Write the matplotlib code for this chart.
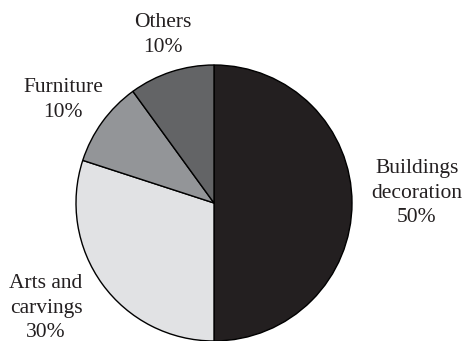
import matplotlib.pyplot as plt

labels = ["Buildings\ndecoration", "Arts and\ncarvings", "Furniture", "Others"]
shares = [50, 30, 10, 10]
colors = ["#231f20", "#e1e2e4", "#939598", "#636466"]
# label anchor points in pixel coordinates (x, y from top)
label_pos = [(417, 193), (46, 308), (63, 100), (163, 35)]

W, H = 463, 341

fig = plt.figure(figsize=(W / 100, H / 100), dpi=100)
ax = fig.add_axes([0, 0, 1, 1])
ax.set_xlim(0, W)
ax.set_ylim(0, H)
ax.set_aspect("equal")
ax.axis("off")

ax.pie(shares, colors=colors, startangle=90, counterclock=False,
       center=(214, H - 203), radius=138,
       wedgeprops=dict(edgecolor="black", linewidth=1.0))
ax.set_xlim(0, W)
ax.set_ylim(0, H)

for lab, val, (x, y) in zip(labels, shares, label_pos):
    ax.text(x, H - y, f"{lab}\n{val}%", ha="center", va="center",
            family="Liberation Serif", fontsize=15.5, linespacing=1.38,
            color="#231f20")

fig.savefig("out.png", dpi=100)
